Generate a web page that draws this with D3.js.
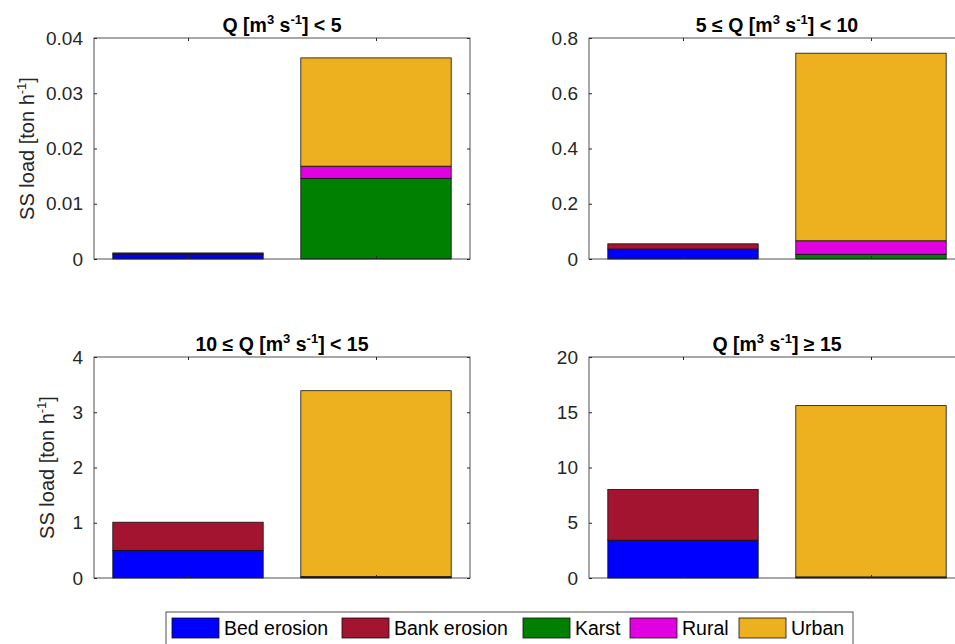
<!DOCTYPE html>
<html>
<head>
<meta charset="utf-8">
<script src="https://cdn.jsdelivr.net/npm/d3@7"></script>
<style>
  html, body { margin: 0; padding: 0; background: #fff; }
  svg { display: block; font-family: "Liberation Sans", Arial, sans-serif; }
</style>
</head>
<body>
<svg id="chart" width="955" height="644"></svg>
<script>
// ---- data (per panel: bar 1 = erosion sources, bar 2 = land-use sources) ----
const panelTitles = ["lt5", "5to10", "10to15", "ge15"];
const categories = [1, 2];
const seriesNames = ["Bed erosion", "Bank erosion", "Karst", "Rural", "Urban"];
const seriesColors = ["#0000ff", "#a2142f", "#008000", "#e000e0", "#edb120"];
// values for bar 1 in each panel
const bedErosion  = [0.0009, 0.036, 0.50, 3.42];
const bankErosion = [0.0002, 0.019, 0.51, 4.60];
// values for bar 2 in each panel
const karst = [0.0146, 0.017, 0.010, 0.05];
const rural = [0.0022, 0.049, 0.015, 0.05];
const urban = [0.0196, 0.679, 3.365, 15.5];
const yMax = [0.04, 0.8, 4, 20];
const yTicks = [
  [0, 0.01, 0.02, 0.03, 0.04],
  [0, 0.2, 0.4, 0.6, 0.8],
  [0, 1, 2, 3, 4],
  [0, 5, 10, 15, 20]
];

const svg = d3.select("#chart");
const axW = 376, axH = 221;
const origins = [[94, 38], [589, 38], [94, 357], [589, 357]];
const yLabelOffset = [-60, null, -40, null];

function titleText(sel, i) {
  const t = sel.append("text")
    .attr("text-anchor", "middle")
    .attr("font-weight", "bold")
    .attr("font-size", 19.5)
    .attr("fill", "#000");
  const sup = (s) => t.append("tspan").attr("font-size", 13).attr("dy", -8).text(s);
  const base = (s) => t.append("tspan").attr("dy", 8).text(s);
  if (i === 1) t.append("tspan").text("5 \u2264 Q [m");
  else if (i === 2) t.append("tspan").text("10 \u2264 Q [m");
  else t.append("tspan").text("Q [m");
  sup("3");
  base(" s");
  sup("-1");
  if (i === 0) base("] <  5");
  else if (i === 1) base("] < 10");
  else if (i === 2) base("] < 15");
  else base("] \u2265 15");
}

panelTitles.forEach((p, i) => {
  const [ox, oy] = origins[i];
  const g = svg.append("g").attr("transform", `translate(${ox},${oy})`);
  const x = d3.scaleLinear().domain([0.5, 2.5]).range([0, axW]);
  const y = d3.scaleLinear().domain([0, yMax[i]]).range([axH, 0]);

  const bars = [
    [bedErosion[i], bankErosion[i], 0, 0, 0],
    [0, 0, karst[i], rural[i], urban[i]]
  ];
  const rows = categories.map((c, bi) => {
    const r = { cat: c };
    seriesNames.forEach((s, si) => r[s] = bars[bi][si]);
    return r;
  });
  const stacked = d3.stack().keys(seriesNames)(rows);
  const bw = x(1.4) - x(0.6);

  stacked.forEach((layer, si) => {
    layer.forEach(d => {
      const v = d[1] - d[0];
      if (v <= 0) return;
      g.append("rect")
        .attr("x", x(d.data.cat) - bw / 2)
        .attr("width", bw)
        .attr("y", y(d[1]))
        .attr("height", y(d[0]) - y(d[1]))
        .attr("fill", seriesColors[si])
        .attr("stroke", "#111")
        .attr("stroke-width", 0.8);
    });
  });

  // box
  g.append("rect").attr("x", 0).attr("y", 0).attr("width", axW).attr("height", axH)
    .attr("fill", "none").attr("stroke", "#262626").attr("stroke-width", 0.8);

  // y axis
  const yAxis = d3.axisLeft(y).tickValues(yTicks[i]).tickSizeInner(-3).tickSizeOuter(0).tickPadding(11)
    .tickFormat(d => String(+d.toFixed(4)));
  const ya = g.append("g").call(yAxis);
  ya.select(".domain").remove();
  ya.selectAll("text").attr("font-size", 19).attr("fill", "#262626")
    .attr("font-family", "'Liberation Sans', Arial, sans-serif");
  ya.selectAll("line").attr("stroke", "#262626");
  // right ticks
  const yr = g.append("g").attr("transform", `translate(${axW},0)`)
    .call(d3.axisRight(y).tickValues(yTicks[i]).tickSizeInner(-3).tickSizeOuter(0).tickFormat(""));
  yr.select(".domain").remove();
  yr.selectAll("line").attr("stroke", "#262626");
  // x ticks (no labels)
  const xb = g.append("g").attr("transform", `translate(0,${axH})`)
    .call(d3.axisBottom(x).tickValues(categories).tickSizeInner(-3).tickSizeOuter(0).tickFormat(""));
  xb.select(".domain").remove();
  xb.selectAll("line").attr("stroke", "#262626");
  const xt = g.append("g")
    .call(d3.axisTop(x).tickValues(categories).tickSizeInner(-3).tickSizeOuter(0).tickFormat(""));
  xt.select(".domain").remove();
  xt.selectAll("line").attr("stroke", "#262626");

  // title
  const tg = g.append("g").attr("transform", `translate(${axW / 2},-6)`);
  titleText(tg, i);

  // y label on left panels
  if (yLabelOffset[i] !== null) {
    const yl = g.append("text")
      .attr("transform", `translate(${yLabelOffset[i]},${axH / 2}) rotate(-90)`)
      .attr("text-anchor", "middle")
      .attr("font-size", 20)
      .attr("fill", "#262626");
    yl.append("tspan").text("SS load [ton h");
    yl.append("tspan").attr("font-size", 13).attr("dy", -8).text("-1");
    yl.append("tspan").attr("dy", 8).text("]");
  }
});

// legend
const lg = svg.append("g");
lg.append("rect").attr("x", 166).attr("y", 612).attr("width", 687).attr("height", 36)
  .attr("fill", "#fff").attr("stroke", "#262626").attr("stroke-width", 0.8);
const legendX = [172, 342, 523, 630, 739];
seriesNames.forEach((s, si) => {
  lg.append("rect").attr("x", legendX[si]).attr("y", 618).attr("width", 47).attr("height", 20)
    .attr("fill", seriesColors[si]).attr("stroke", "#111").attr("stroke-width", 0.8);
  lg.append("text").attr("x", legendX[si] + 52).attr("y", 635)
    .attr("font-size", 19.5).attr("fill", "#000").text(s);
});
</script>
</body>
</html>
